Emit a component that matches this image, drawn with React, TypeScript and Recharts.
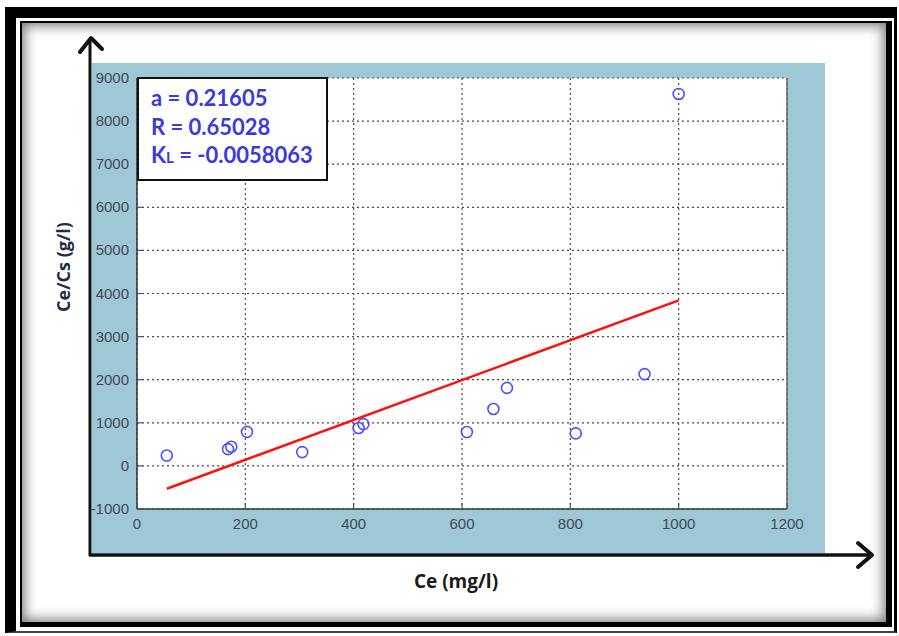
import React from 'react';
import { ScatterChart, Scatter, XAxis, YAxis, CartesianGrid, ReferenceLine } from 'recharts';

// measured points: Ce (mg/l) vs Ce/Cs (g/l)
const ceValues = [55, 168, 174, 203, 305, 409, 418, 609, 658, 683, 810, 937, 1000];
const ratioValues = [240, 390, 445, 790, 320, 880, 970, 785, 1320, 1810, 755, 2130, 8630];

// fitted line end points
const fitCe = [55, 1000];
const fitRatio = [-530, 3840];

const xTicks = [0, 200, 400, 600, 800, 1000, 1200];
const yTicks = [-1000, 0, 1000, 2000, 3000, 4000, 5000, 6000, 7000, 8000, 9000];

const fitLabels = ['a = 0.21605', 'R = 0.65028'];
const klLabel = ['K', 'L', ' = -0.0058063'];

const points = ceValues.map((x, i) => ({ x, y: ratioValues[i] }));
const fitLine = fitCe.map((x, i) => ({ x, y: fitRatio[i] }));

const tickFont = { fontFamily: '"Liberation Sans", Arial, sans-serif', fontSize: 15, fill: '#3e4a55' };

const YTick = (props: any) => {
    const { x, y, payload } = props;
    return (
        <g>
            <line x1={x + 8} x2={x + 14} y1={y} y2={y} stroke="#555" strokeWidth={1.2} />
            <text x={x} y={y} dy={5} textAnchor="end" {...tickFont}>{payload.value}</text>
        </g>
    );
};

const XTick = (props: any) => {
    const { x, y, payload } = props;
    return (
        <g>
            <line x1={x} x2={x} y1={y - 8} y2={y - 14} stroke="#555" strokeWidth={1.2} />
            <text x={x} y={y} dy={12} textAnchor="middle" {...tickFont}>{payload.value}</text>
        </g>
    );
};

const OpenCircle = (props: any) => (
    <circle cx={props.cx} cy={props.cy} r={5.5} fill="none" stroke="#4f4fff" strokeWidth={1.6} />
);

const NoDot = () => <g />;

export default function App() {
    return (
        <div style={{ position: 'absolute', left: 0, top: 0, width: 899, height: 636, background: '#fff', overflow: 'hidden' }}>
            {/* picture frame */}
            <div
                style={{
                    position: 'absolute', left: 5, top: 7, width: 892, height: 626, boxSizing: 'border-box',
                    borderTop: '11px solid #000', borderLeft: '11px solid #000',
                    borderRight: '3px solid #000', borderBottom: '2px solid #444',
                    padding: '3px 2px 4px 4px', background: '#fff',
                }}
            >
                <div
                    style={{
                        width: '100%', height: '100%', boxSizing: 'border-box',
                        borderTop: '2px solid #000', borderLeft: '2px solid #000',
                        borderRight: '6px solid #000', borderBottom: '5px solid #000',
                        boxShadow: 'inset 0 0 12px 3px rgba(0,0,0,0.5)',
                    }}
                />
            </div>

            {/* blue figure panel */}
            <div style={{ position: 'absolute', left: 92, top: 63, width: 733, height: 490, background: '#9ec8d5' }} />

            {/* arrows and axis titles */}
            <svg width={899} height={636} style={{ position: 'absolute', left: 0, top: 0 }}>
                <line x1={90} y1={39} x2={90} y2={556} stroke="#111" strokeWidth={3} />
                <polyline points="80,52 91,38 102,49" fill="none" stroke="#111" strokeWidth={4} strokeLinecap="round" strokeLinejoin="round" />
                <line x1={89} y1={555} x2={871} y2={555} stroke="#111" strokeWidth={3.5} />
                <polyline points="858,543 872,555 858,567" fill="none" stroke="#111" strokeWidth={4} strokeLinecap="round" strokeLinejoin="round" />
                <text x={456} y={588} textAnchor="middle" fontFamily='"Open Sans", sans-serif' fontWeight="bold" fontSize={19} fill="#1a1a1a">
                    Ce (mg/l)
                </text>
                <text
                    x={0} y={0} transform="translate(70,267) rotate(-90)" textAnchor="middle"
                    fontFamily='"Open Sans", sans-serif' fontWeight="bold" fontSize={18} fill="#1f2d4a"
                >
                    Ce/Cs (g/l)
                </text>
            </svg>

            <div style={{ position: 'absolute', left: 0, top: 0 }}>
                <ScatterChart width={899} height={636} margin={{ top: 78, right: 112, bottom: 97, left: 87 }}>
                    <CartesianGrid stroke="#4a4a4a" strokeDasharray="2 3" strokeWidth={1.2} fill="#fff" />
                    <XAxis
                        type="number" dataKey="x" domain={[0, 1200]} ticks={xTicks} height={30}
                        axisLine={{ stroke: '#3a3a3a', strokeWidth: 1.6 }} tickLine={false} tick={<XTick />}
                        interval={0} allowDataOverflow
                    />
                    <YAxis
                        type="number" dataKey="y" domain={[-1000, 9000]} ticks={yTicks} width={50}
                        axisLine={{ stroke: '#3a3a3a', strokeWidth: 1.6 }} tickLine={false} tick={<YTick />}
                        interval={0} allowDataOverflow
                    />
                    <ReferenceLine x={1200} stroke="#666" strokeWidth={1.5} />
                    <Scatter
                        data={fitLine} line={{ stroke: '#ff1010', strokeWidth: 2.5 }} lineType="joint"
                        shape={<NoDot />} isAnimationActive={false}
                    />
                    <Scatter data={points} shape={<OpenCircle />} isAnimationActive={false} />
                </ScatterChart>
            </div>

            {/* fit parameters box */}
            <div
                style={{
                    position: 'absolute', left: 137, top: 77, width: 191, height: 104, boxSizing: 'border-box',
                    border: '2px solid #111', background: '#fff', padding: '5px 0 0 12px',
                    fontFamily: 'Lato, sans-serif', fontWeight: 'bold', fontSize: 22, lineHeight: '28.5px', color: '#3a3ae0',
                }}
            >
                {fitLabels.map((t) => (
                    <div key={t}>{t}</div>
                ))}
                <div>
                    {klLabel[0]}
                    <span style={{ fontSize: 15 }}>{klLabel[1]}</span>
                    {klLabel[2]}
                </div>
            </div>
        </div>
    );
}
